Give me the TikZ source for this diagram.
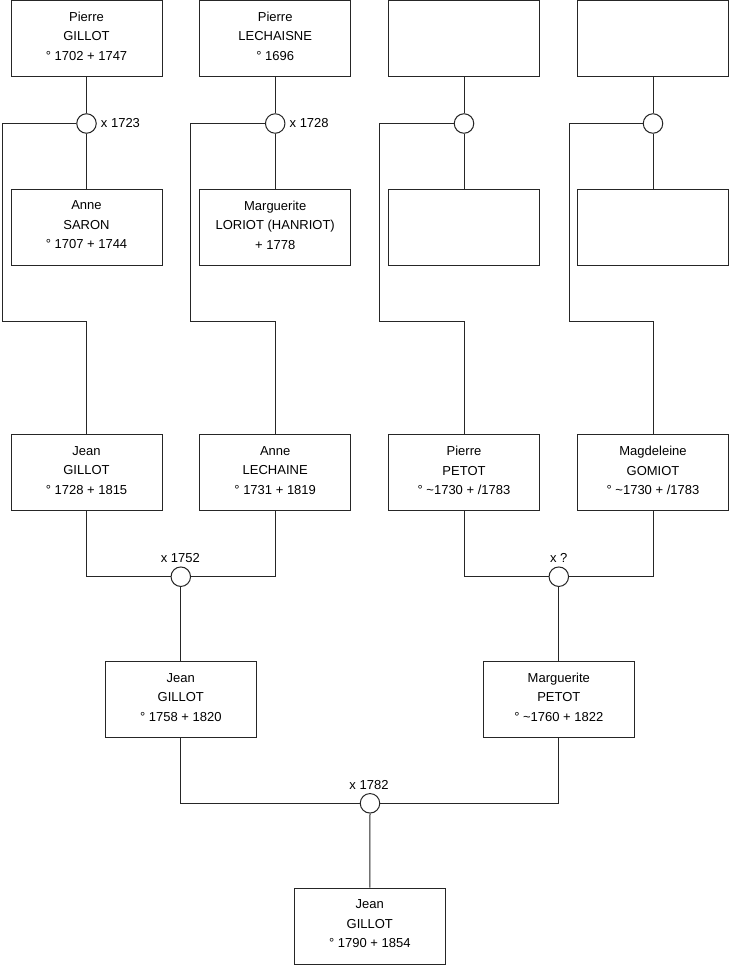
\documentclass[tikz,border=0pt]{standalone}
\usepackage{fontspec}
\setmainfont{Liberation Sans}
\begin{document}
\begin{tikzpicture}[x=1pt,y=-1pt,
  person/.style={draw=black!85, line width=1pt, minimum width=151pt, minimum height=76pt, align=center,
    font=\fontsize{13}{19.5}\selectfont, inner sep=0pt, fill=white,
    execute at end node={\rule[-4.5pt]{0pt}{4.5pt}}},
  union/.style={circle, draw=black!85, line width=1pt, minimum size=19.5pt, inner sep=0pt, fill=white},
  link/.style={draw=black!85, line width=1pt},
  lbl/.style={font=\fontsize{13}{15}\selectfont, inner sep=0pt}]
\useasboundingbox (0,0) rectangle (740,975);
\fill[white] (0,0) rectangle (740,975);

% top row
\node[person] (p1) at (86.5,38.5) {Pierre\\GILLOT\\° 1702 + 1747};
\node[person] (p2) at (275.2,38.5) {Pierre\\LECHAISNE\\° 1696};
\node[person] (p3) at (464,38.5) {};
\node[person] (p4) at (653,38.5) {};

% unions top
\node[union] (u1) at (86.5,123.5) {};
\node[union] (u2) at (275.2,123.5) {};
\node[union] (u3) at (464,123.5) {};
\node[union] (u4) at (653,123.5) {};

\node[lbl, anchor=west] (l1) at ([xshift=4pt]u1.east) {x 1723};
\node[lbl, anchor=west] (l2) at ([xshift=4pt]u2.east) {x 1728};

% second row
\node[person] (s1) at (86.5,227.2) {Anne\\SARON\\° 1707 + 1744};
\node[person] (s2) at (275.2,227.2) {Marguerite\\LORIOT (HANRIOT)\\+ 1778};
\node[person] (s3) at (464,227.2) {};
\node[person] (s4) at (653,227.2) {};

% third row
\node[person] (c1) at (86.5,472.7) {Jean\\GILLOT\\° 1728 + 1815};
\node[person] (c2) at (275.2,472.7) {Anne\\LECHAINE\\° 1731 + 1819};
\node[person] (c3) at (464,472.7) {Pierre\\PETOT\\° \textasciitilde 1730 + /1783};
\node[person] (c4) at (653,472.7) {Magdeleine\\GOMIOT\\° \textasciitilde 1730 + /1783};

% corner coordinates
\coordinate (k1) at (2.7,321.5);
\coordinate (k2) at (190.7,321.5);
\coordinate (k3) at (379,321.5);
\coordinate (k4) at (569,321.5);

% unions mid
\node[union] (u5) at (180.8,576.7) {};
\node[union] (u6) at (558.8,576.7) {};
\node[lbl] (l5) at (180.3,558) {x 1752};
\node[lbl] (l6) at (558.8,558) {x ?};

% fourth row
\node[person] (g1) at (180.8,699.3) {Jean\\GILLOT\\° 1758 + 1820};
\node[person] (g2) at (558.8,699.3) {Marguerite\\PETOT\\° \textasciitilde 1760 + 1822};

\node[union] (u7) at (370,803.3) {};
\node[lbl] (l7) at (369,785) {x 1782};

\node[person] (b) at (369.8,926) {Jean\\GILLOT\\° 1790 + 1854};

% connectors
\foreach \i in {1,2,3,4} {
  \draw[link] (p\i.south) -- (u\i.north);
  \draw[link] (u\i.south) -- (s\i.north);
  \draw[link] (u\i.west) -| (k\i) -| (c\i.north);
}
\draw[link] (c1.south) |- (u5.west);
\draw[link] (c2.south) |- (u5.east);
\draw[link] (u5.south) -- (g1.north);
\draw[link] (c3.south) |- (u6.west);
\draw[link] (c4.south) |- (u6.east);
\draw[link] (u6.south) -- (g2.north);
\draw[link] (g1.south) |- (u7.west);
\draw[link] (g2.south) |- (u7.east);
\draw[link] (u7.south) -- (b.north);
\end{tikzpicture}
\end{document}
